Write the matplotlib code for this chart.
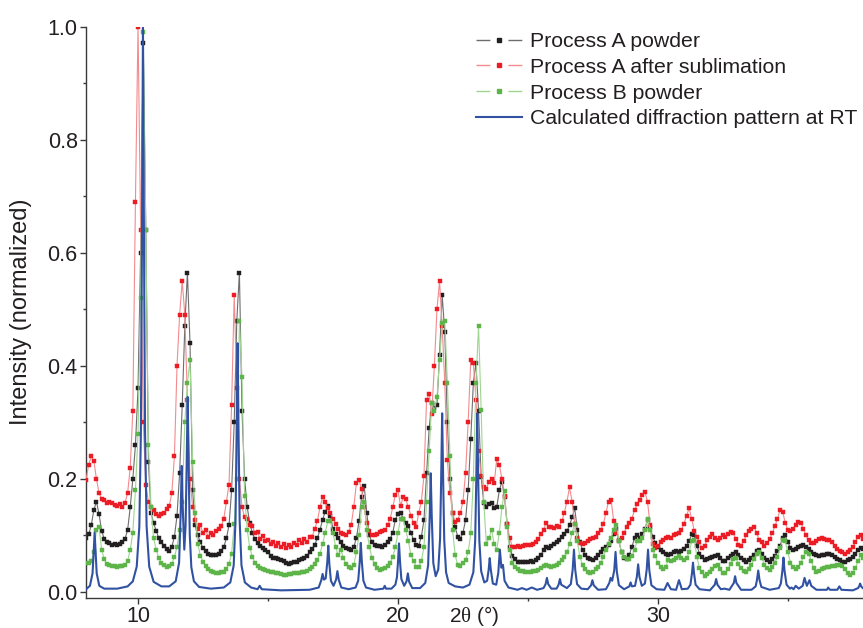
import numpy as np
import matplotlib
matplotlib.use("Agg")
import matplotlib.pyplot as plt
from matplotlib.lines import Line2D
from matplotlib.ticker import AutoMinorLocator, MultipleLocator

plt.rcParams['font.family'] = ['Liberation Sans', 'DejaVu Sans']
plt.rcParams['mathtext.fontset'] = 'custom'
plt.rcParams['mathtext.rm'] = 'Liberation Serif'

# measured patterns, 8-38 deg in 0.1 deg steps
two_theta = np.round(np.linspace(8.0, 38.0, 301), 1)

process_a_powder = [
    0.095, 0.102, 0.118, 0.145, 0.160, 0.138, 0.108, 0.094, 0.089, 0.086,  # 8
    0.084, 0.085, 0.083, 0.085, 0.088, 0.094, 0.110, 0.150, 0.200, 0.260,  # 9
    0.360, 0.600, 0.970, 0.640, 0.230, 0.140, 0.122, 0.108, 0.095, 0.088,  # 10
    0.082, 0.076, 0.072, 0.080, 0.098, 0.135, 0.210, 0.330, 0.470, 0.565,  # 11
    0.440, 0.180, 0.118, 0.100, 0.088, 0.078, 0.072, 0.068, 0.066, 0.065,  # 12
    0.066, 0.068, 0.072, 0.080, 0.095, 0.118, 0.180, 0.300, 0.480, 0.565,  # 13
    0.320, 0.200, 0.150, 0.122, 0.104, 0.094, 0.086, 0.081, 0.077, 0.074,  # 14
    0.070, 0.064, 0.061, 0.060, 0.058, 0.057, 0.055, 0.052, 0.050, 0.051,  # 15
    0.053, 0.054, 0.056, 0.058, 0.061, 0.064, 0.070, 0.076, 0.084, 0.095,  # 16
    0.110, 0.128, 0.142, 0.152, 0.135, 0.112, 0.102, 0.096, 0.088, 0.082,  # 17
    0.078, 0.076, 0.074, 0.080, 0.095, 0.125, 0.168, 0.188, 0.140, 0.100,  # 18
    0.088, 0.084, 0.082, 0.081, 0.080, 0.084, 0.088, 0.094, 0.105, 0.128,  # 19
    0.138, 0.140, 0.130, 0.122, 0.116, 0.105, 0.092, 0.084, 0.082, 0.098,  # 20
    0.127, 0.210, 0.290, 0.335, 0.325, 0.330, 0.420, 0.525, 0.460, 0.300,  # 21
    0.200, 0.140, 0.115, 0.098, 0.094, 0.105, 0.127, 0.180, 0.270, 0.370,  # 22
    0.405, 0.320, 0.204, 0.158, 0.150, 0.155, 0.158, 0.148, 0.150, 0.180,  # 23
    0.195, 0.168, 0.120, 0.080, 0.064, 0.058, 0.054, 0.053, 0.054, 0.053,  # 24
    0.054, 0.055, 0.054, 0.056, 0.060, 0.066, 0.074, 0.080, 0.078, 0.082,  # 25
    0.085, 0.088, 0.092, 0.098, 0.102, 0.108, 0.118, 0.132, 0.148, 0.110,  # 26
    0.088, 0.075, 0.066, 0.060, 0.058, 0.057, 0.060, 0.065, 0.070, 0.076,  # 27
    0.080, 0.084, 0.090, 0.102, 0.112, 0.090, 0.070, 0.060, 0.058, 0.066,  # 28
    0.080, 0.095, 0.100, 0.096, 0.102, 0.112, 0.127, 0.115, 0.098, 0.087,  # 29
    0.080, 0.074, 0.070, 0.068, 0.066, 0.068, 0.070, 0.072, 0.070, 0.072,  # 30
    0.076, 0.082, 0.090, 0.102, 0.100, 0.082, 0.068, 0.062, 0.057, 0.058,  # 31
    0.060, 0.062, 0.064, 0.065, 0.060, 0.055, 0.055, 0.060, 0.064, 0.068,  # 32
    0.071, 0.066, 0.060, 0.056, 0.054, 0.056, 0.060, 0.066, 0.072, 0.074,  # 33
    0.068, 0.060, 0.056, 0.054, 0.058, 0.064, 0.072, 0.082, 0.096, 0.100,  # 34
    0.088, 0.078, 0.074, 0.076, 0.079, 0.082, 0.083, 0.080, 0.076, 0.071,  # 35
    0.067, 0.065, 0.064, 0.065, 0.066, 0.067, 0.068, 0.066, 0.062, 0.058,  # 36
    0.056, 0.054, 0.054, 0.056, 0.058, 0.062, 0.068, 0.074, 0.078, 0.076,  # 37
    0.074,
]

process_a_sublimed = [
    0.198, 0.225, 0.240, 0.232, 0.200, 0.175, 0.165, 0.162, 0.158, 0.160,  # 8
    0.158, 0.154, 0.152, 0.155, 0.150, 0.158, 0.175, 0.220, 0.320, 0.690,  # 9
    1.000, 0.640, 0.300, 0.190, 0.160, 0.150, 0.145, 0.138, 0.134, 0.138,  # 10
    0.140, 0.146, 0.152, 0.175, 0.240, 0.400, 0.490, 0.550, 0.490, 0.340,  # 11
    0.200, 0.150, 0.128, 0.112, 0.118, 0.104, 0.110, 0.098, 0.104, 0.100,  # 12
    0.108, 0.112, 0.116, 0.130, 0.160, 0.190, 0.330, 0.525, 0.360, 0.200,  # 13
    0.150, 0.132, 0.130, 0.118, 0.117, 0.104, 0.106, 0.094, 0.099, 0.090,  # 14
    0.092, 0.085, 0.089, 0.082, 0.087, 0.079, 0.085, 0.077, 0.083, 0.079,  # 15
    0.086, 0.084, 0.092, 0.087, 0.094, 0.089, 0.097, 0.098, 0.112, 0.126,  # 16
    0.150, 0.168, 0.160, 0.148, 0.140, 0.130, 0.121, 0.112, 0.105, 0.102,  # 17
    0.100, 0.106, 0.118, 0.150, 0.192, 0.198, 0.182, 0.150, 0.122, 0.108,  # 18
    0.100, 0.100, 0.103, 0.106, 0.108, 0.110, 0.118, 0.130, 0.150, 0.172,  # 19
    0.180, 0.152, 0.168, 0.164, 0.150, 0.135, 0.122, 0.115, 0.140, 0.160,  # 20
    0.205, 0.340, 0.350, 0.315, 0.400, 0.500, 0.550, 0.470, 0.370, 0.233,  # 21
    0.175, 0.140, 0.123, 0.128, 0.140, 0.160, 0.210, 0.300, 0.410, 0.405,  # 22
    0.340, 0.250, 0.205, 0.185, 0.182, 0.195, 0.200, 0.192, 0.235, 0.225,  # 23
    0.200, 0.170, 0.121, 0.095, 0.080, 0.080, 0.082, 0.080, 0.082, 0.083,  # 24
    0.084, 0.083, 0.085, 0.088, 0.094, 0.102, 0.110, 0.122, 0.115, 0.115,  # 25
    0.114, 0.116, 0.115, 0.125, 0.140, 0.160, 0.185, 0.160, 0.120, 0.095,  # 26
    0.086, 0.085, 0.086, 0.090, 0.094, 0.096, 0.098, 0.104, 0.110, 0.120,  # 27
    0.140, 0.160, 0.163, 0.125, 0.105, 0.092, 0.095, 0.105, 0.115, 0.122,  # 28
    0.130, 0.145, 0.155, 0.162, 0.172, 0.177, 0.160, 0.118, 0.085, 0.078,  # 29
    0.082, 0.088, 0.092, 0.095, 0.098, 0.096, 0.100, 0.102, 0.104, 0.110,  # 30
    0.120, 0.135, 0.148, 0.130, 0.108, 0.098, 0.088, 0.078, 0.082, 0.092,  # 31
    0.098, 0.102, 0.096, 0.092, 0.096, 0.100, 0.098, 0.102, 0.106, 0.104,  # 32
    0.094, 0.084, 0.082, 0.090, 0.100, 0.108, 0.112, 0.115, 0.104, 0.092,  # 33
    0.088, 0.082, 0.086, 0.094, 0.104, 0.116, 0.130, 0.145, 0.142, 0.122,  # 34
    0.110, 0.108, 0.112, 0.118, 0.124, 0.122, 0.112, 0.100, 0.092, 0.087,  # 35
    0.086, 0.090, 0.094, 0.096, 0.094, 0.092, 0.092, 0.088, 0.082, 0.076,  # 36
    0.072, 0.070, 0.068, 0.070, 0.074, 0.080, 0.088, 0.098, 0.100, 0.094,  # 37
    0.090,
]

process_b_powder = [
    0.051, 0.052, 0.055, 0.070, 0.110, 0.115, 0.075, 0.058, 0.050, 0.048,  # 8
    0.046, 0.046, 0.045, 0.046, 0.046, 0.047, 0.055, 0.075, 0.105, 0.180,  # 9
    0.280, 0.520, 0.990, 0.640, 0.260, 0.150, 0.095, 0.075, 0.060, 0.052,  # 10
    0.047, 0.045, 0.046, 0.050, 0.062, 0.080, 0.110, 0.160, 0.300, 0.370,  # 11
    0.410, 0.230, 0.140, 0.085, 0.064, 0.054, 0.046, 0.040, 0.037, 0.035,  # 12
    0.034, 0.034, 0.035, 0.036, 0.040, 0.050, 0.068, 0.120, 0.200, 0.480,  # 13
    0.380, 0.170, 0.110, 0.078, 0.062, 0.052, 0.046, 0.043, 0.040, 0.039,  # 14
    0.037, 0.036, 0.035, 0.034, 0.033, 0.032, 0.031, 0.031, 0.032, 0.032,  # 15
    0.033, 0.034, 0.034, 0.035, 0.035, 0.037, 0.040, 0.045, 0.050, 0.057,  # 16
    0.068, 0.085, 0.105, 0.125, 0.125, 0.105, 0.080, 0.065, 0.075, 0.060,  # 17
    0.050, 0.045, 0.042, 0.048, 0.070, 0.100, 0.150, 0.160, 0.110, 0.080,  # 18
    0.060, 0.050, 0.042, 0.039, 0.040, 0.043, 0.046, 0.052, 0.062, 0.080,  # 19
    0.105, 0.130, 0.130, 0.110, 0.090, 0.065, 0.055, 0.045, 0.045, 0.055,  # 20
    0.080, 0.160, 0.250, 0.335, 0.320, 0.345, 0.410, 0.475, 0.480, 0.370,  # 21
    0.240, 0.110, 0.065, 0.048, 0.046, 0.052, 0.057, 0.070, 0.104, 0.200,  # 22
    0.370, 0.470, 0.322, 0.160, 0.085, 0.095, 0.110, 0.085, 0.075, 0.105,  # 23
    0.150, 0.178, 0.115, 0.075, 0.052, 0.044, 0.040, 0.038, 0.037, 0.036,  # 24
    0.036, 0.036, 0.037, 0.038, 0.039, 0.042, 0.046, 0.048, 0.046, 0.045,  # 25
    0.046, 0.048, 0.052, 0.057, 0.062, 0.070, 0.085, 0.105, 0.121, 0.090,  # 26
    0.062, 0.048, 0.040, 0.035, 0.034, 0.036, 0.040, 0.045, 0.052, 0.062,  # 27
    0.075, 0.085, 0.095, 0.110, 0.118, 0.090, 0.070, 0.062, 0.058, 0.058,  # 28
    0.064, 0.075, 0.090, 0.090, 0.095, 0.110, 0.130, 0.110, 0.075, 0.063,  # 29
    0.052, 0.044, 0.040, 0.045, 0.057, 0.055, 0.056, 0.060, 0.063, 0.060,  # 30
    0.057, 0.060, 0.070, 0.090, 0.092, 0.062, 0.042, 0.035, 0.028, 0.032,  # 31
    0.036, 0.040, 0.046, 0.048, 0.040, 0.034, 0.033, 0.040, 0.050, 0.058,  # 32
    0.060, 0.050, 0.042, 0.038, 0.036, 0.040, 0.048, 0.058, 0.068, 0.071,  # 33
    0.060, 0.048, 0.042, 0.039, 0.044, 0.052, 0.062, 0.078, 0.092, 0.090,  # 34
    0.070, 0.052, 0.044, 0.040, 0.044, 0.052, 0.062, 0.070, 0.068, 0.055,  # 35
    0.042, 0.036, 0.037, 0.040, 0.042, 0.044, 0.045, 0.046, 0.046, 0.047,  # 36
    0.048, 0.046, 0.040, 0.034, 0.030, 0.034, 0.042, 0.055, 0.065, 0.060,  # 37
    0.056,
]

# calculated pattern (room temperature)
calc_theta = [
    8.0, 8.15, 8.25, 8.29, 8.33, 8.37, 8.41, 8.51, 8.7, 9.2,
    9.6, 9.8, 9.95, 10.05, 10.11, 10.15, 10.19, 10.23, 10.27, 10.33,
    10.43, 10.6, 10.9, 11.2, 11.45, 11.58, 11.64, 11.68, 11.72, 11.78,
    11.83, 11.87, 11.91, 11.95, 11.99, 12.05, 12.15, 12.35, 12.8, 13.3,
    13.55, 13.68, 13.75, 13.79, 13.83, 13.87, 13.91, 13.98, 14.11, 14.35,
    14.6, 14.68, 14.76, 15.5, 16.6, 16.95, 17.05, 17.1, 17.15, 17.22,
    17.28, 17.32, 17.36, 17.42, 17.52, 17.62, 17.67, 17.72, 17.82, 18.1,
    18.37, 18.47, 18.53, 18.57, 18.61, 18.67, 18.77, 19.1, 19.44, 19.49,
    19.54, 19.75, 19.9, 19.96, 20.0, 20.04, 20.08, 20.13, 20.24, 20.33,
    20.38, 20.43, 20.55, 20.85, 21.05, 21.16, 21.22, 21.26, 21.3, 21.36,
    21.45, 21.55, 21.62, 21.66, 21.7, 21.74, 21.78, 21.85, 21.95, 22.2,
    22.5, 22.75, 22.9, 22.97, 23.01, 23.05, 23.09, 23.13, 23.2, 23.32,
    23.43, 23.49, 23.53, 23.57, 23.65, 23.78, 23.86, 23.92, 23.98, 24.04,
    24.1, 24.25, 24.6, 24.77, 24.95, 25.15, 25.35, 25.6, 25.68, 25.73,
    25.78, 25.9, 26.1, 26.18, 26.23, 26.28, 26.5, 26.65, 26.72, 26.77,
    26.82, 26.89, 27.05, 27.3, 27.43, 27.48, 27.53, 27.7, 28.0, 28.13,
    28.18, 28.24, 28.32, 28.37, 28.42, 28.5, 28.7, 28.9, 28.95, 29.0,
    29.12, 29.19, 29.24, 29.29, 29.38, 29.5, 29.57, 29.62, 29.67, 29.75,
    29.95, 30.25, 30.37, 30.5, 30.7, 30.81, 30.92, 31.15, 31.25, 31.31,
    31.35, 31.39, 31.45, 31.6, 32.0, 32.19, 32.24, 32.29, 32.42, 32.56,
    32.75, 32.92, 32.97, 33.02, 33.2, 33.6, 33.76, 33.81, 33.86, 33.91,
    33.98, 34.3, 34.65, 34.73, 34.79, 34.83, 34.87, 34.95, 35.08, 35.14,
    35.22, 35.3, 35.42, 35.57, 35.64, 35.73, 35.83, 35.9, 36.1, 36.5,
    36.55, 36.62, 36.9, 36.98, 37.06, 37.5, 37.7, 37.74, 37.78, 37.82,
    37.88, 38.0,
]
calc_intensity = [
    0.005, 0.011, 0.033, 0.067, 0.105, 0.067, 0.033, 0.011, 0.006, 0.006,
    0.010, 0.019, 0.045, 0.116, 0.283, 0.610, 1.000, 0.610, 0.283, 0.116,
    0.045, 0.018, 0.010, 0.010, 0.019, 0.052, 0.139, 0.223, 0.150, 0.075,
    0.118, 0.223, 0.345, 0.215, 0.102, 0.044, 0.019, 0.009, 0.006, 0.008,
    0.017, 0.047, 0.126, 0.271, 0.440, 0.271, 0.126, 0.047, 0.017, 0.008,
    0.005, 0.011, 0.005, 0.003, 0.004, 0.008, 0.021, 0.032, 0.022, 0.024,
    0.053, 0.082, 0.050, 0.020, 0.011, 0.022, 0.037, 0.022, 0.008, 0.005,
    0.008, 0.020, 0.054, 0.087, 0.054, 0.020, 0.008, 0.004, 0.006, 0.011,
    0.006, 0.006, 0.013, 0.026, 0.053, 0.086, 0.053, 0.023, 0.011, 0.019,
    0.033, 0.018, 0.007, 0.007, 0.016, 0.047, 0.131, 0.210, 0.133, 0.051,
    0.028, 0.040, 0.094, 0.196, 0.316, 0.195, 0.092, 0.035, 0.016, 0.010,
    0.008, 0.013, 0.035, 0.091, 0.193, 0.316, 0.194, 0.091, 0.037, 0.017,
    0.020, 0.040, 0.060, 0.040, 0.015, 0.013, 0.034, 0.075, 0.043, 0.048,
    0.020, 0.008, 0.004, 0.007, 0.004, 0.008, 0.004, 0.007, 0.014, 0.025,
    0.014, 0.006, 0.006, 0.013, 0.023, 0.013, 0.007, 0.014, 0.039, 0.075,
    0.039, 0.014, 0.006, 0.005, 0.012, 0.021, 0.012, 0.004, 0.005, 0.016,
    0.025, 0.020, 0.038, 0.071, 0.036, 0.012, 0.005, 0.010, 0.017, 0.010,
    0.011, 0.027, 0.049, 0.027, 0.011, 0.015, 0.040, 0.075, 0.038, 0.012,
    0.005, 0.004, 0.016, 0.005, 0.004, 0.021, 0.005, 0.006, 0.013, 0.033,
    0.052, 0.033, 0.013, 0.005, 0.003, 0.013, 0.023, 0.013, 0.005, 0.006,
    0.004, 0.016, 0.028, 0.016, 0.004, 0.004, 0.010, 0.021, 0.038, 0.021,
    0.009, 0.004, 0.007, 0.015, 0.038, 0.061, 0.038, 0.013, 0.006, 0.008,
    0.005, 0.011, 0.006, 0.011, 0.025, 0.011, 0.021, 0.011, 0.004, 0.004,
    0.008, 0.004, 0.004, 0.010, 0.004, 0.003, 0.007, 0.010, 0.015, 0.010,
    0.007, 0.004,
]

labels = ['Process A powder', 'Process A after sublimation',
          'Process B powder', 'Calculated diffraction pattern at RT']
marker_colors = ['#231f20', '#ec1c24', '#5db448']
line_colors = ['#6d6d6d', '#f28b8e', '#9fd591']
blue = '#3152a2'

fig = plt.figure(figsize=(8.63, 6.28), dpi=100)
ax = fig.add_axes([0.0997, 0.0478, 0.9003, 0.9100])

series = [process_a_sublimed, process_a_powder, process_b_powder]
order = [1, 0, 2]
for s, k in zip(series, order):
    ax.plot(two_theta, s, color=line_colors[k], lw=0.8, marker='s', ms=2.9,
            mfc=marker_colors[k], mec=marker_colors[k], mew=0.3, zorder=2 + k)
ax.plot(calc_theta, calc_intensity, color=blue, lw=1.5, zorder=6)

ax.set_xlim(8.0, 37.89)
ax.set_ylim(-0.0105, 1.0)
ax.xaxis.set_major_locator(MultipleLocator(10))
ax.xaxis.set_minor_locator(AutoMinorLocator(2))
ax.yaxis.set_major_locator(MultipleLocator(0.2))
ax.yaxis.set_minor_locator(AutoMinorLocator(2))
ax.yaxis.set_major_formatter(lambda v, p: f'{v:.1f}')

for side in ['top', 'right']:
    ax.spines[side].set_visible(False)
for side in ['left', 'bottom']:
    ax.spines[side].set_color('#3a3a3a')
    ax.spines[side].set_linewidth(1.0)
ax.tick_params(which='major', direction='out', length=4, width=1.0,
               color='#3a3a3a', labelsize=15.5, labelcolor='#231f20', pad=2)
ax.tick_params(which='minor', direction='out', length=2.5, width=1.0,
               color='#3a3a3a')

ax.set_ylabel('Intensity (normalized)', fontsize=17, color='#231f20')
ax.yaxis.set_label_coords(-0.069, 0.5)
ax.set_xlabel(r'2$\mathrm{\theta}$ (°)', fontsize=15, color='#231f20')
ax.xaxis.set_label_coords(0.5, -0.011)

handles = []
for k in range(3):
    handles.append(Line2D([], [], color=line_colors[k], lw=1.0, dashes=(10, 13),
                          marker='s', ms=3.0, mfc=marker_colors[k],
                          mec=marker_colors[k]))
handles.append(Line2D([], [], color=blue, lw=1.5))
fig.legend(handles, labels, loc='upper left', bbox_to_anchor=(0.5516, 0.9485),
           frameon=False, fontsize=15.3, handlelength=2.16, handletextpad=0.37,
           labelspacing=0.31, borderpad=0, borderaxespad=0, numpoints=1,
           labelcolor='#231f20')

fig.savefig('out.png', dpi=100)
